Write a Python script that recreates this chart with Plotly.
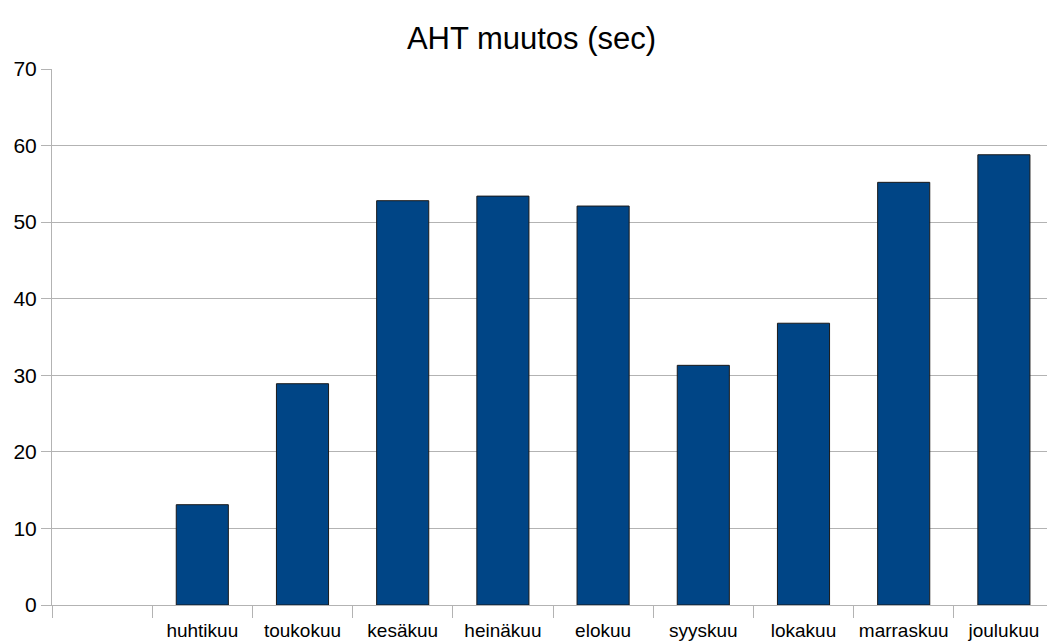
import plotly.graph_objects as go

months = [" ", "huhtikuu", "toukokuu", "kesäkuu", "heinäkuu", "elokuu",
          "syyskuu", "lokakuu", "marraskuu", "joulukuu"]
values = [None, 13.1, 28.9, 52.8, 53.4, 52.1, 31.3, 36.8, 55.2, 58.8]
y_ticks = [0, 10, 20, 30, 40, 50, 60, 70]

fig = go.Figure(go.Bar(
    x=months, y=values, width=0.52,
    marker=dict(color="#004586", line=dict(color="#1a1a1a", width=1)),
))

# page body has an 8px default margin; compensate so plot area sits at x 52..1054, y 69..597
fig.update_layout(
    width=1047, height=636,
    margin=dict(l=44, r=1, t=61, b=39, autoexpand=False),
    paper_bgcolor="white", plot_bgcolor="white",
    font=dict(family="Liberation Sans, Arial, sans-serif", size=19, color="black"),
    title=dict(text="AHT muutos (sec)", x=0.5, xanchor="center", y=1 - 30 / 636, yanchor="middle",
               font=dict(size=31, color="black")),
    showlegend=False,
)
fig.update_xaxes(
    type="category", tickson="boundaries", ticks="outside", ticklen=12,
    tickcolor="#b3b3b3", tickwidth=1, showline=True, linecolor="#b3b3b3",
    showgrid=False, range=[-0.5, 9.5], automargin=False, tickangle=0,
    tickfont=dict(size=19), ticklabelstandoff=8,
)
fig.update_yaxes(
    range=[0, 70], tickvals=y_ticks, showgrid=True, gridcolor="#b3b3b3",
    ticks="outside", ticklen=10, tickcolor="#b3b3b3", showline=True,
    linecolor="#b3b3b3", zeroline=False, tickfont=dict(size=21), automargin=False,
)
fig.add_shape(type="line", xref="paper", yref="paper", x0=1, x1=1, y0=0, y1=1,
              line=dict(color="#b3b3b3", width=1))

fig.write_html("out.html")
